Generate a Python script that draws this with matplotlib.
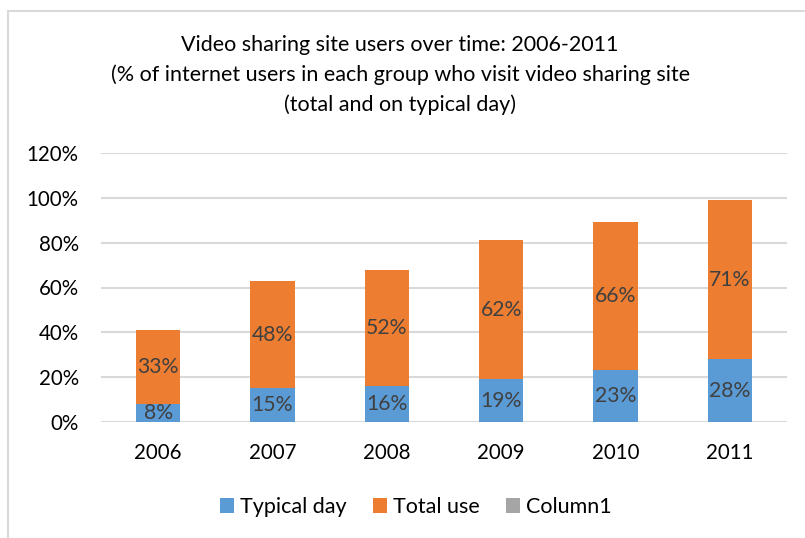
import numpy as np
import matplotlib.pyplot as plt
from matplotlib.patches import Rectangle

plt.rcParams['font.family'] = ['Lato', 'DejaVu Sans']

years = ['2006', '2007', '2008', '2009', '2010', '2011']
typical_day = [8, 15, 16, 19, 23, 28]
total_use = [33, 48, 52, 62, 66, 71]
column1 = [0, 0, 0, 0, 0, 0]

blue = '#5B9BD5'
orange = '#ED7D31'
grey = '#A5A5A5'

fig = plt.figure(figsize=(8.05, 5.38), dpi=100)
ax = fig.add_axes([101 / 805, 1 - 422 / 538, 686 / 805, 269 / 538])

x = np.arange(len(years))
typ = np.array(typical_day) / 100
tot = np.array(total_use) / 100
b1 = ax.bar(x, typ, width=0.39, color=blue, label='Typical day', zorder=3)
b2 = ax.bar(x, tot, width=0.39, bottom=typ, color=orange, label='Total use', zorder=3)
b3 = ax.bar(x, np.array(column1) / 100, width=0.39, bottom=typ + tot, color=grey,
            label='Column1', zorder=3)

for bars, vals in [(b1, typical_day), (b2, total_use)]:
    for rect, v in zip(bars, vals):
        cx = rect.get_x() + rect.get_width() / 2
        cy = rect.get_y() + rect.get_height() / 2
        ax.text(cx, cy, f'{v}%', ha='center', va='center', fontsize=15.2,
                color='#404040', zorder=4)

ax.set_xlim(-0.5, len(years) - 0.5)
ax.set_ylim(0, 1.2)
ax.set_yticks(np.arange(0, 1.21, 0.2))
ax.set_yticklabels([f'{int(round(t * 100))}%' for t in np.arange(0, 1.21, 0.2)])
ax.set_xticks(x)
ax.set_xticklabels(years)
ax.tick_params(axis='both', length=0, labelsize=14.8, colors='#000000')
ax.tick_params(axis='y', pad=16)
ax.tick_params(axis='x', pad=15)
ax.grid(axis='y', color='#D9D9D9', linewidth=1.5, zorder=0)
for s in ax.spines.values():
    s.set_visible(False)

fig.text(0.497, 1 - 75 / 538, 'Video sharing site users over time: 2006-2011\n'
         '(% of internet users in each group who visit video sharing site\n'
         '(total and on typical day)', ha='center', va='center', fontsize=15.5,
         linespacing=1.55, color='#000000')

fig.legend(handles=[b1, b2, b3], labels=['Typical day', 'Total use', 'Column1'],
           loc='center', bbox_to_anchor=(416 / 805, 1 - 507 / 538), ncol=3, frameon=False,
           fontsize=15.5, handlelength=0.65, handleheight=0.65, handletextpad=0.3,
           columnspacing=1.2)

# chart border (partly cropped in the reference)
fig.patches.append(Rectangle((8 / 805, -0.1), 1.2, 1 - 11 / 538 + 0.1,
                             transform=fig.transFigure, fill=False,
                             edgecolor='#D9D9D9', linewidth=1.5))

fig.savefig('out.png', dpi=100)
